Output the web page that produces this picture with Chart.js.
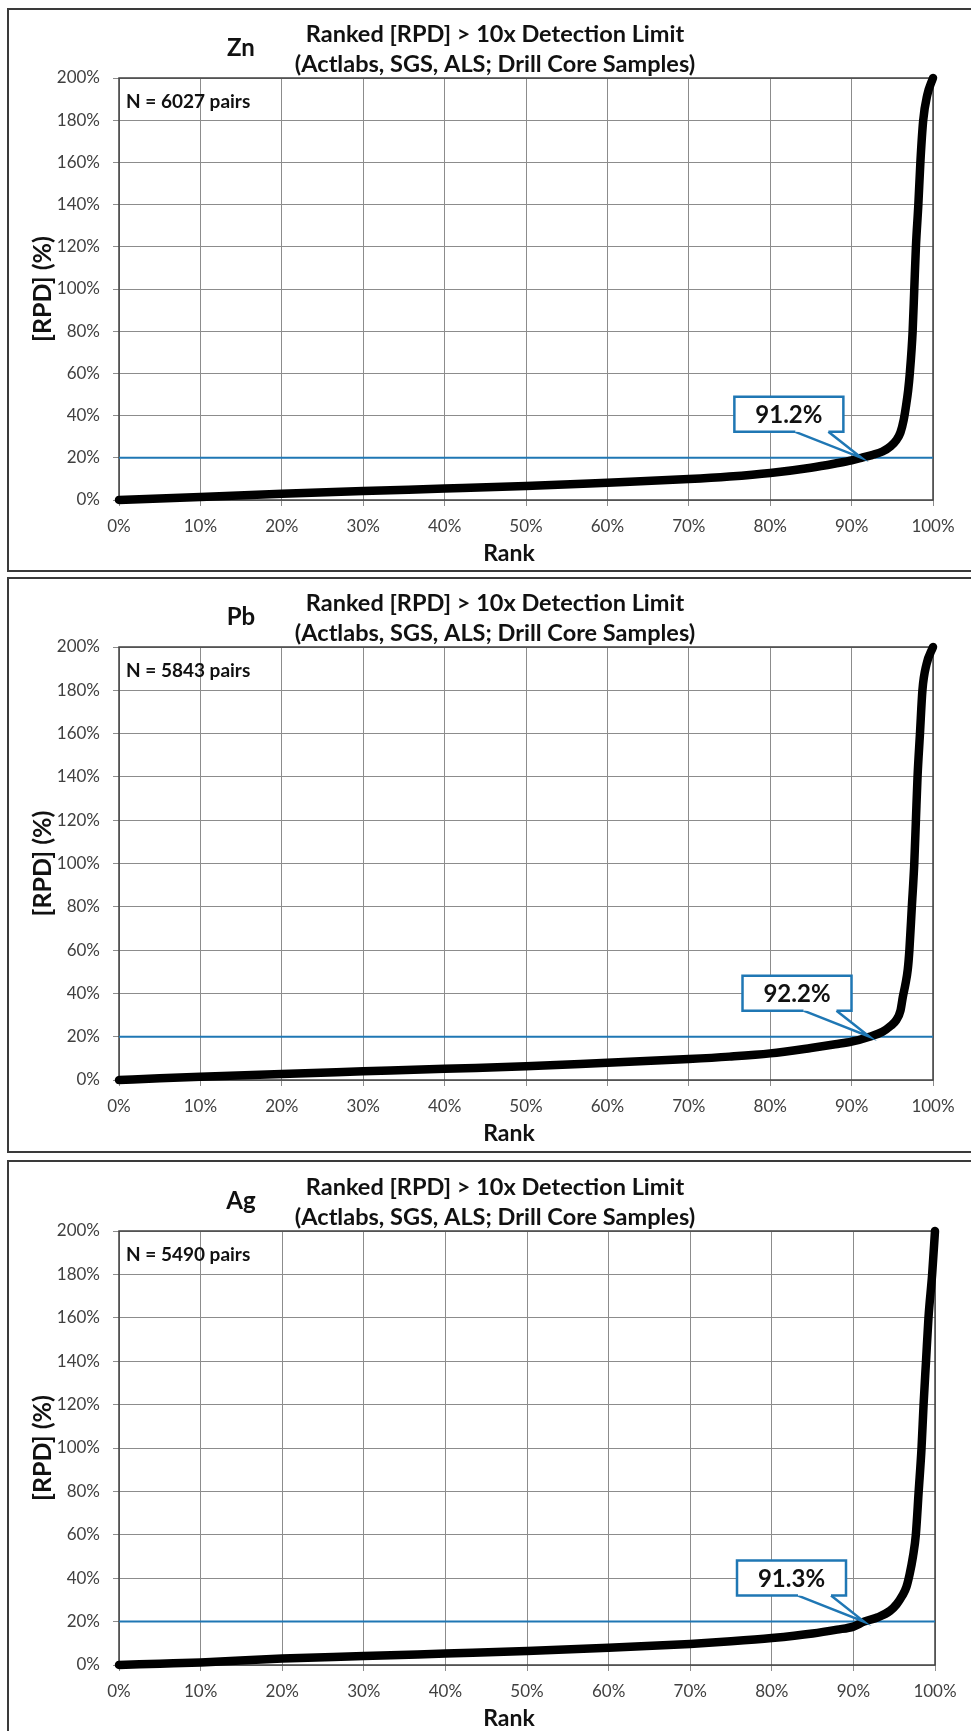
<!DOCTYPE html>
<html>
<head>
<meta charset="utf-8">
<script src="https://cdn.jsdelivr.net/npm/chart.js@4.4.1/dist/chart.umd.min.js"></script>
<style>
  html, body { margin: 0; padding: 0; background: #fff; }
  body { width: 971px; height: 1731px; position: relative; overflow: hidden; }
  .frame { position: absolute; border: 2px solid #3a3a3a; box-sizing: border-box; }
  canvas { position: absolute; left: 0; }
</style>
</head>
<body>
<div class="frame" style="left:7px; top:8px; width:972px; height:564px"></div>
<div class="frame" style="left:7px; top:577px; width:972px; height:576px"></div>
<div class="frame" style="left:7px; top:1160px; width:972px; height:590px"></div>
<canvas id="zn" width="971" height="574" style="top:0px"></canvas>
<canvas id="pb" width="971" height="583" style="top:574px"></canvas>
<canvas id="ag" width="971" height="574" style="top:1157px"></canvas>
<script>
// Ranked absolute relative percent difference of duplicate pairs (> 10x detection limit)
const titleLines = ['Ranked [RPD] > 10x Detection Limit', '(Actlabs, SGS, ALS; Drill Core Samples)'];
const elements = ['Zn', 'Pb', 'Ag'];
const pairCounts = [6027, 5843, 5490];
const crossingRanks = [91.2, 92.2, 91.3];   // rank (%) where [RPD] reaches the threshold
const thresholdRpd = 20;                     // [RPD] threshold line (%)
const rankTicks = [0, 10, 20, 30, 40, 50, 60, 70, 80, 90, 100];
const rpdTicks = [0, 20, 40, 60, 80, 100, 120, 140, 160, 180, 200];

// Zn: rank (%) and [RPD] (%)
const znRank = [0, 5, 10, 20, 30, 40, 50, 60, 70, 75, 80, 85, 88, 90, 91.2, 92.5, 93.8, 94.8, 95.5, 96.0, 96.4, 96.7, 96.95, 97.15, 97.5, 97.7, 97.9, 98.2, 98.45, 98.8, 99.3, 100];
const znRpd  = [0, 0.7, 1.4, 3.0, 4.3, 5.4, 6.6, 8.2, 9.9, 11.1, 12.8, 15.3, 17.3, 18.8, 20, 21.3, 23.0, 25.5, 28.4, 32, 38, 45, 52, 60, 80, 100, 120, 140, 160, 180, 192, 200];

// Pb: rank (%) and [RPD] (%)
const pbRank = [0, 5, 10, 20, 30, 40, 50, 60, 70, 75, 80, 85, 88, 90, 92.2, 93.8, 94.8, 95.5, 96.0, 96.3, 96.6, 96.9, 97.1, 97.4, 97.7, 97.9, 98.1, 98.4, 98.7, 99.2, 100];
const pbRpd  = [0, 0.8, 1.5, 2.8, 4.0, 5.2, 6.3, 8.0, 9.7, 10.8, 12.3, 14.8, 16.5, 17.7, 20, 22.3, 25, 27.7, 32, 38.5, 44, 51, 60, 80, 100, 120, 140, 160, 180, 192, 200];

// Ag: rank (%) and [RPD] (%)
const agRank = [0, 5, 10, 20, 30, 40, 50, 60, 70, 75, 80, 85, 88, 90, 91.3, 93, 94.5, 95.3, 96.0, 96.5, 96.9, 97.3, 97.65, 98.0, 98.35, 98.6, 98.9, 99.2, 99.65, 100];
const agRpd  = [0, 0.6, 1.2, 3.0, 4.1, 5.3, 6.5, 8.0, 9.7, 10.9, 12.4, 14.5, 16.3, 17.7, 20, 22, 25, 28, 32, 36, 42, 50, 60, 80, 100, 120, 140, 160, 180, 200];

const seriesRanks = [znRank, pbRank, agRank];
const seriesRpds = [znRpd, pbRpd, agRpd];

// Page placement of each panel's plot area
const panelLayout = [
  { id: 'zn', canvasTop: 0,    height: 574, plotTop: 78,   plotBottom: 500,  plotRight: 933 },
  { id: 'pb', canvasTop: 574,  height: 583, plotTop: 647,  plotBottom: 1080, plotRight: 933 },
  { id: 'ag', canvasTop: 1157, height: 574, plotTop: 1231, plotBottom: 1665, plotRight: 935 }
];
const plotLeft = 119;
const xAxisBand = 40;

const FONT = 'Lato, "Open Sans", "Noto Sans", sans-serif';
const BLUE = '#1f77b4';

const decorations = {
  id: 'decorations',
  beforeDatasetsDraw(chart, args, o) {
    const a = chart.chartArea, ctx = chart.ctx;
    ctx.save();
    ctx.strokeStyle = '#404040';
    ctx.lineWidth = 1.5;
    ctx.strokeRect(a.left, a.top, a.right - a.left, a.bottom - a.top);
    ctx.restore();
  },
  afterDatasetsDraw(chart, args, o) {
    const ctx = chart.ctx;
    const tx = chart.scales.x.getPixelForValue(o.crossing);
    const ty = chart.scales.y.getPixelForValue(o.threshold);
    const L = tx - 127, R = tx - 18, T = ty - 61, B = ty - 26;
    ctx.save();
    ctx.lineWidth = 2.5;
    ctx.strokeStyle = BLUE;
    ctx.fillStyle = '#fff';
    ctx.lineJoin = 'miter';
    // pointer wedge
    ctx.beginPath();
    ctx.moveTo(tx - 66, B - 2);
    ctx.lineTo(tx, ty);
    ctx.lineTo(tx - 33, B - 2);
    ctx.closePath();
    ctx.fill();
    ctx.beginPath();
    ctx.moveTo(tx - 66, B);
    ctx.lineTo(tx, ty);
    ctx.lineTo(tx - 33, B);
    ctx.stroke();
    // box outline with gap for the wedge
    ctx.fillRect(L, T, R - L, B - T);
    ctx.beginPath();
    ctx.moveTo(tx - 66, B);
    ctx.lineTo(L, B);
    ctx.lineTo(L, T);
    ctx.lineTo(R, T);
    ctx.lineTo(R, B);
    ctx.lineTo(tx - 33, B);
    ctx.stroke();
    ctx.fillStyle = '#111';
    ctx.font = 'bold 24px ' + FONT;
    ctx.textAlign = 'center';
    ctx.textBaseline = 'middle';
    ctx.fillText(o.crossing.toFixed(1) + '%', (L + R) / 2, (T + B) / 2 + 1);
    ctx.restore();
  },
  afterDraw(chart, args, o) {
    const a = chart.chartArea, ctx = chart.ctx;
    ctx.save();
    ctx.fillStyle = '#111';
    ctx.textBaseline = 'middle';
    ctx.textAlign = 'center';
    ctx.font = 'bold 23.5px ' + FONT;
    ctx.fillText(titleLines[0], 495, a.top - 44);
    ctx.fillText(titleLines[1], 495, a.top - 14);
    ctx.font = 'bold 24px ' + FONT;
    ctx.fillText(o.element, 241, a.top - 30);
    ctx.font = 'bold 23px ' + FONT;
    ctx.fillText('Rank', 509, a.bottom + 54);
    ctx.textAlign = 'left';
    ctx.font = 'bold 19px ' + FONT;
    ctx.fillText('N = ' + o.pairs + ' pairs', a.left + 7, a.top + 24);
    ctx.translate(43, (a.top + a.bottom) / 2);
    ctx.rotate(-Math.PI / 2);
    ctx.textAlign = 'center';
    ctx.font = 'bold 25px ' + FONT;
    ctx.fillText('[RPD] (%)', 0, 0);
    ctx.restore();
  }
};

panelLayout.forEach((p, i) => {
  const curve = seriesRanks[i].map((r, k) => ({ x: r, y: seriesRpds[i][k] }));
  const canvas = document.getElementById(p.id);
  new Chart(canvas, {
    type: 'scatter',
    data: {
      datasets: [
        {
          data: curve,
          showLine: true,
          borderColor: '#000',
          borderWidth: 8.5,
          pointRadius: 0,
          cubicInterpolationMode: 'monotone',
          borderCapStyle: 'round',
          borderJoinStyle: 'round',
          clip: 8,
          order: 0
        },
        {
          data: [{ x: rankTicks[0], y: thresholdRpd }, { x: rankTicks[rankTicks.length - 1], y: thresholdRpd }],
          showLine: true,
          borderColor: BLUE,
          borderWidth: 2,
          pointRadius: 0,
          order: 1
        }
      ]
    },
    options: {
      responsive: false,
      animation: false,
      devicePixelRatio: 1,
      events: [],
      layout: {
        padding: {
          left: 0,
          right: 971 - p.plotRight,
          top: p.plotTop - p.canvasTop,
          bottom: p.height - (p.plotBottom - p.canvasTop) - xAxisBand
        }
      },
      plugins: {
        legend: { display: false },
        tooltip: { enabled: false },
        decorations: { element: elements[i], pairs: pairCounts[i], crossing: crossingRanks[i], threshold: thresholdRpd }
      },
      scales: {
        x: {
          type: 'linear',
          min: rankTicks[0],
          max: rankTicks[rankTicks.length - 1],
          afterBuildTicks: s => { s.ticks = rankTicks.map(v => ({ value: v })); },
          afterFit: s => { s.height = xAxisBand; },
          border: { display: false },
          grid: { color: '#8c8c8c', lineWidth: 1, tickLength: 6, tickColor: '#8c8c8c' },
          ticks: { padding: 10, color: '#404040', font: { family: FONT, size: 17 }, callback: v => v + '%', maxRotation: 0 }
        },
        y: {
          type: 'linear',
          min: rpdTicks[0],
          max: rpdTicks[rpdTicks.length - 1],
          afterBuildTicks: s => { s.ticks = rpdTicks.map(v => ({ value: v })); },
          afterFit: s => { s.width = plotLeft; },
          border: { display: false },
          grid: { color: '#8c8c8c', lineWidth: 1, tickLength: 6, tickColor: '#8c8c8c' },
          ticks: { padding: 13, color: '#404040', font: { family: FONT, size: 17 }, callback: v => v + '%' }
        }
      }
    },
    plugins: [decorations]
  });
});
</script>
</body>
</html>
